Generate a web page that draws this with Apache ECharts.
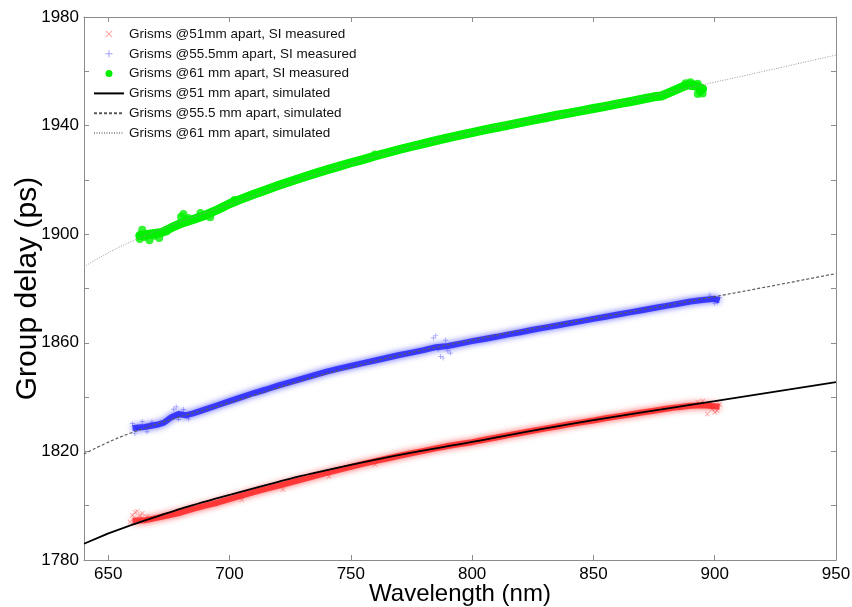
<!DOCTYPE html>
<html>
<head>
<meta charset="utf-8">
<title>Group delay</title>
<script src="https://cdn.jsdelivr.net/npm/echarts@6.0.0/dist/echarts.min.js"></script>
</head>
<body style="margin:0;background:#fff">
<div id="main" style="width:852px;height:607px;"></div>
<script type="text/javascript">
// wavelength tick labels (nm) and group delay tick labels (ps)
var xTicks = [650, 700, 750, 800, 850, 900, 950];
var yTicks = [1780, 1820, 1860, 1900, 1940, 1980];
var yMinorTicks = [1780, 1800, 1820, 1840, 1860, 1880, 1900, 1920, 1940, 1960, 1980];

var names = [
  'Grisms @51mm apart, SI measured',
  'Grisms @55.5mm apart, SI measured',
  'Grisms @61 mm apart, SI measured',
  'Grisms @51 mm apart, simulated',
  'Grisms @55.5 mm apart, simulated',
  'Grisms @61 mm apart, simulated'
];

// measured, band centre
var wl51 = [660, 665, 670, 675, 680, 685, 690, 695, 700, 705, 710, 715, 720, 725, 730, 735, 740, 745, 750,
  755, 760, 765, 770, 775, 780, 785, 790, 795, 800, 805, 810, 815, 820, 825, 830, 835, 840, 845, 850,
  855, 860, 865, 870, 875, 880, 885, 890, 895, 900, 902];
var gd51 = [1794.5, 1794.6, 1795.5, 1796.5, 1797.5, 1798.8, 1800, 1801.1, 1802.4, 1803.7, 1805, 1806.2, 1807.3, 1808.5, 1809.7, 1810.9, 1812.1, 1813.2, 1814.3,
  1815.4, 1816.4, 1817.4, 1818.4, 1819.3, 1820.2, 1821.1, 1822, 1822.7, 1823.4, 1824.3, 1825.1, 1826, 1826.8, 1827.6, 1828.4, 1829.2, 1830, 1830.7, 1831.4,
  1832.2, 1832.9, 1833.6, 1834.3, 1835, 1835.7, 1836.3, 1836.8, 1837, 1836.6, 1836.4];
// measured, scattered outliers of the band
var wl51s = [659, 660, 661, 662, 663, 664, 666, 668, 705, 722, 741, 760, 893, 895, 897, 898, 899, 900, 901, 902];
var gd51s = [1794, 1796.5, 1797.6, 1798, 1796.3, 1797.2, 1796, 1795.2, 1802.2, 1806, 1810.8, 1815.2, 1838.2, 1838.6, 1833.8, 1837.2, 1835.6, 1834.4, 1835, 1837.4];

var wl55 = [660, 665, 670, 673, 676, 679, 682, 685, 690, 695, 700, 705, 710, 715, 720, 725, 730, 735, 740,
  745, 750, 755, 760, 765, 770, 775, 780, 785, 790, 795, 800, 805, 810, 815, 820, 825,
  830, 835, 840, 845, 850, 855, 860, 865, 870, 875, 880, 885, 890, 895, 900, 902];
var gd55 = [1828.6, 1829, 1829.8, 1830.6, 1832.6, 1833.8, 1833.3, 1834, 1835.5, 1837, 1838.5, 1840, 1841.5, 1842.8, 1844.2, 1845.5, 1846.8, 1848.1, 1849.4,
  1850.5, 1851.5, 1852.5, 1853.5, 1854.5, 1855.5, 1856.4, 1857.3, 1858.4, 1858.8, 1859.7, 1860.6, 1861.4, 1862.2, 1863.1, 1863.9, 1864.8,
  1865.6, 1866.4, 1867.2, 1868, 1868.8, 1869.6, 1870.4, 1871.2, 1872, 1872.8, 1873.6, 1874.4, 1875.2, 1875.8, 1876.2, 1875.6];
var wl55s = [660, 661, 662, 664, 666, 668, 677, 678, 679, 681, 683, 784, 785, 786, 787, 788, 789, 790, 791, 898, 900, 901, 902];
var gd55s = [1830.2, 1826.6, 1828.2, 1831, 1827.2, 1830.8, 1835.6, 1836.4, 1831.8, 1835.4, 1832, 1861.8, 1862.6, 1857.6, 1855, 1854.4, 1861, 1857, 1856.2, 1877.6, 1874.6, 1875, 1876.6];

var wl61 = [663, 667, 672, 676, 680, 685, 690, 695, 700, 705, 710, 715, 720, 725, 730, 735,
  740, 745, 750, 755, 760, 765, 770, 775, 780, 785, 790, 795, 800, 805, 810, 815, 820, 825, 830, 835,
  840, 845, 850, 855, 860, 865, 870, 875, 878, 882, 886, 889, 892, 895];
var gd61 = [1899.5, 1900, 1900.6, 1902.4, 1904, 1905.4, 1907, 1909, 1911.2, 1913, 1914.7, 1916.3, 1917.9, 1919.4, 1920.9, 1922.3,
  1923.7, 1925, 1926.3, 1927.5, 1928.8, 1930, 1931.2, 1932.3, 1933.4, 1934.5, 1935.5, 1936.5, 1937.4, 1938.4, 1939.3, 1940.2, 1941.1, 1942, 1942.9, 1943.8,
  1944.6, 1945.4, 1946.3, 1947.1, 1948, 1948.8, 1949.7, 1950.6, 1950.9, 1952.4, 1954, 1955, 1954.6, 1953.6];
var wl61s = [663, 664, 665, 667, 669, 671, 674, 677, 680, 681, 683, 688, 692, 697, 702, 760, 888, 890, 891, 893, 893, 894, 895, 895];
var gd61s = [1898.2, 1901.6, 1899, 1897.8, 1899.4, 1898.6, 1901, 1902.8, 1906.4, 1907.4, 1906, 1907.8, 1906.2, 1909.8, 1912.6, 1929.4, 1955.6, 1956, 1955.2, 1955.4, 1951.6, 1952.4, 1953.4, 1951.8];

// simulated
var simWl = [640, 660, 700, 750, 800, 850, 900, 950];
var sim51 = [1786, 1793, 1804, 1815, 1823.5, 1831.5, 1838.5, 1845.5];
var sim55 = [1819, 1827, 1838, 1851, 1861, 1869, 1877, 1885.5];
var sim61 = [1888, 1897.5, 1911, 1926, 1937.5, 1946.5, 1956, 1966];

function pairs(xs, ys) {
  return xs.map(function (x, i) { return [x, ys[i]]; });
}

var crossIcon = 'path://M0,1 L1,0 L5,4 L9,0 L10,1 L6,5 L10,9 L9,10 L5,6 L1,10 L0,9 L4,5 Z';
var plusIcon = 'path://M4.3,0 H5.7 V4.3 H10 V5.7 H5.7 V10 H4.3 V5.7 H0 V4.3 H4.3 Z';

var chart = echarts.init(document.getElementById('main'));
var frame = '#8c8c8c';
var font = 'Liberation Sans, Arial, sans-serif';

var option = {
  animation: false,
  backgroundColor: '#fff',
  textStyle: { fontFamily: font },
  grid: { left: 84, right: 16, top: 17, bottom: 47, outerBoundsMode: 'none', containLabel: false },
  legend: {
    orient: 'vertical',
    left: 93,
    top: 27,
    padding: 0,
    itemWidth: 30,
    itemHeight: 7,
    itemGap: 5.8,
    textStyle: { fontSize: 13.5, color: '#111', fontFamily: font },
    data: [
      { name: names[0], icon: crossIcon, itemStyle: { color: 'rgba(255,90,90,0.55)' } },
      { name: names[1], icon: plusIcon, itemStyle: { color: 'rgba(80,80,255,0.55)' } },
      { name: names[2], icon: 'circle', itemStyle: { color: '#00ee00' } },
      { name: names[3], itemStyle: { color: 'rgba(0,0,0,0)' } },
      { name: names[4], itemStyle: { color: 'rgba(0,0,0,0)' } },
      { name: names[5], itemStyle: { color: 'rgba(0,0,0,0)' } }
    ]
  },
  xAxis: [
    {
      type: 'value', min: 640, max: 950,
      name: 'Wavelength (nm)', nameLocation: 'middle', nameGap: 22, nameMoveOverlap: false,
      nameTextStyle: { fontSize: 24, color: '#000' },
      axisLine: { lineStyle: { color: frame } },
      axisTick: { inside: true, length: 5, customValues: xTicks, lineStyle: { color: frame } },
      axisLabel: { customValues: xTicks, fontSize: 17, color: '#000', margin: 6 },
      splitLine: { show: false }
    },
    {
      type: 'value', min: 640, max: 950, position: 'top',
      axisLine: { lineStyle: { color: frame } },
      axisTick: { inside: true, length: 5, customValues: xTicks, lineStyle: { color: frame } },
      axisLabel: { show: false },
      splitLine: { show: false }
    }
  ],
  yAxis: [
    {
      type: 'value', min: 1780, max: 1980,
      name: 'Group delay (ps)', nameLocation: 'middle', nameGap: 41, nameMoveOverlap: false,
      nameTextStyle: { fontSize: 30, color: '#000' },
      axisLine: { show: true, lineStyle: { color: frame } },
      axisTick: { show: true, inside: true, length: 5, customValues: yMinorTicks, lineStyle: { color: frame } },
      axisLabel: { customValues: yTicks, fontSize: 17, color: '#000', margin: 5, formatter: function (v) { return String(v); } },
      splitLine: { show: false }
    },
    {
      type: 'value', min: 1780, max: 1980, position: 'right',
      axisLine: { show: true, lineStyle: { color: frame } },
      axisTick: { show: true, inside: true, length: 5, customValues: yMinorTicks, lineStyle: { color: frame } },
      axisLabel: { show: false },
      splitLine: { show: false }
    }
  ],
  series: [
    {
      name: names[0], type: 'line', symbol: 'none', data: pairs(wl51, gd51),
      itemStyle: { color: 'rgba(255,90,90,0.55)' },
      lineStyle: { width: 6, color: 'rgba(255,30,30,0.8)', shadowColor: 'rgba(255,0,0,0.8)', shadowBlur: 6 }
    },
    {
      name: names[0], type: 'scatter', symbol: crossIcon, symbolSize: 5, data: pairs(wl51s, gd51s),
      itemStyle: { color: 'rgba(255,50,50,0.6)' }
    },
    {
      name: names[1], type: 'line', symbol: 'none', data: pairs(wl55, gd55),
      itemStyle: { color: 'rgba(80,80,255,0.55)' },
      lineStyle: { width: 6, color: 'rgba(30,30,255,0.8)', shadowColor: 'rgba(0,0,255,0.8)', shadowBlur: 6 }
    },
    {
      name: names[1], type: 'scatter', symbol: plusIcon, symbolSize: 5, data: pairs(wl55s, gd55s),
      itemStyle: { color: 'rgba(40,40,255,0.6)' }
    },
    {
      name: names[2], type: 'line', symbol: 'none', data: pairs(wl61, gd61),
      itemStyle: { color: '#00ee00' },
      lineStyle: { width: 9, color: '#00f000', cap: 'round', join: 'round' }
    },
    {
      name: names[2], type: 'scatter', symbol: 'circle', symbolSize: 8, data: pairs(wl61s, gd61s),
      itemStyle: { color: '#00f000' }
    },
    {
      name: names[3], type: 'line', symbol: 'none', smooth: true, data: pairs(simWl, sim51),
      itemStyle: { color: '#000' },
      lineStyle: { width: 1.8, color: '#000' }
    },
    {
      name: names[4], type: 'line', symbol: 'none', smooth: true, data: pairs(simWl, sim55),
      itemStyle: { color: '#555' },
      lineStyle: { width: 1.2, color: '#5a5a5a', type: [3, 2] }
    },
    {
      name: names[5], type: 'line', symbol: 'none', smooth: true, data: pairs(simWl, sim61),
      itemStyle: { color: '#999' },
      lineStyle: { width: 1, color: '#9a9a9a', type: [1, 1.5] }
    }
  ]
};

chart.setOption(option);
</script>
</body>
</html>
